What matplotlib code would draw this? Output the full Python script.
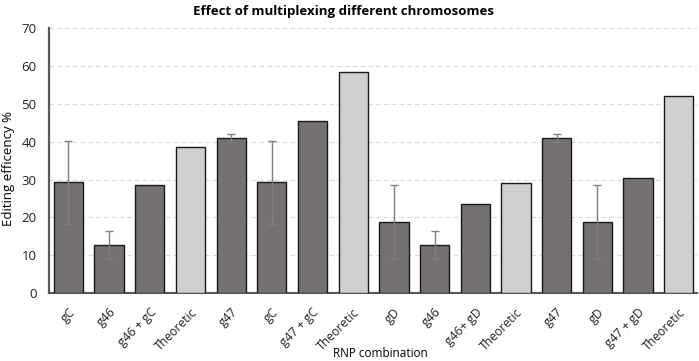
import matplotlib.pyplot as plt
import numpy as np

plt.rcParams['font.family'] = ['Open Sans', 'DejaVu Sans']

# data
labels = ["gC", "g46", "g46 + gC", "Theoretic", "g47", "gC", "g47 + gC", "Theoretic",
          "gD", "g46", "g46+ gD", "Theoretic", "g47", "gD", "g47 + gD", "Theoretic"]
values = [29.3, 12.7, 28.5, 38.5, 41.0, 29.3, 45.6, 58.4,
          18.8, 12.7, 23.5, 29.2, 41.0, 18.8, 30.5, 52.1]
errors = [11.0, 3.6, 0, 0, 1.0, 11.0, 0, 0,
          9.8, 3.6, 0, 0, 1.0, 9.8, 0, 0]
theoretic = [lab == "Theoretic" for lab in labels]

dark = "#767171"
light = "#d0cece"

fig, ax = plt.subplots(figsize=(6.99, 3.61), dpi=100)
fig.subplots_adjust(left=0.07, right=0.997, top=0.922, bottom=0.188)

x = np.arange(len(labels))
colors = [light if t else dark for t in theoretic]
ax.bar(x, values, width=0.72, color=colors, edgecolor="#1a1a1a", linewidth=1.0, zorder=3)
for xi, v, e in zip(x, values, errors):
    if e > 0:
        ax.errorbar(xi, v, yerr=e, fmt="none", ecolor="#7f7f7f", elinewidth=1.0,
                    capsize=3, capthick=1.0, zorder=4)

ax.set_xlim(-0.48, 15.45)
ax.set_ylim(0, 70)
ax.set_yticks(np.arange(0, 71, 10))
ax.yaxis.grid(True, linestyle=(0, (4, 3)), color="#d9d9d9", linewidth=0.8, zorder=0)
ax.set_axisbelow(True)

ax.set_xticks(x)
ax.set_xticklabels(labels, rotation=45, ha="right", rotation_mode="anchor")
ax.tick_params(axis="y", length=0, labelsize=9.5, colors="#222222", pad=9)
ax.tick_params(axis="x", length=0, labelsize=8.8, colors="#222222", pad=9)

for side in ("top", "right"):
    ax.spines[side].set_visible(False)
ax.spines["left"].set_color("#595959")
ax.spines["left"].set_linewidth(1.6)
ax.spines["bottom"].set_color("#595959")
ax.spines["bottom"].set_linewidth(1.5)

fig.text(0.491, 0.985, "Effect of multiplexing different chromosomes",
         fontsize=9.5, fontweight="bold", ha="center", va="top")
ax.set_ylabel("Editing efficency %", fontsize=9.5)
ax.yaxis.set_label_coords(-0.052, 0.47)
ax.set_xlabel("RNP combination", fontsize=8.5)
ax.xaxis.set_label_coords(0.512, -0.205)

fig.savefig("out.png", dpi=100)
